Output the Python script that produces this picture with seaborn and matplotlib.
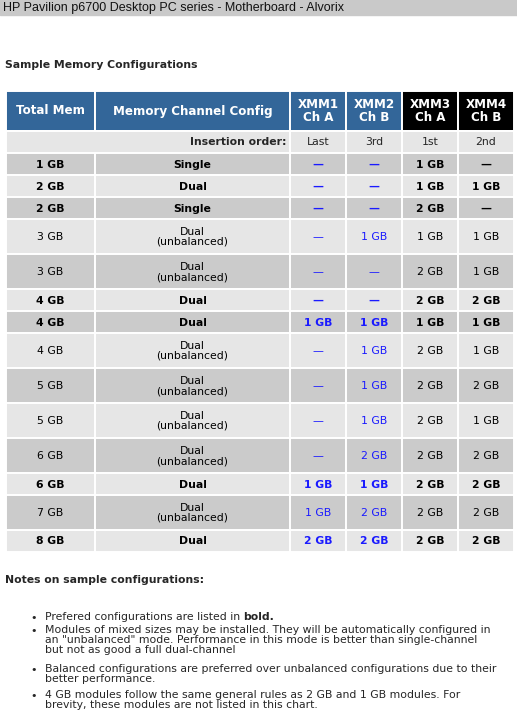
import seaborn as sns
import matplotlib.pyplot as plt
from matplotlib.patches import Rectangle

sns.set_theme(style="white")
plt.rcParams['font.family'] = ['DejaVu Sans']

# Table data
headers = ["Total Mem", "Memory Channel Config", "XMM1\nCh A", "XMM2\nCh B", "XMM3\nCh A", "XMM4\nCh B"]
insertion_order = ["Last", "3rd", "1st", "2nd"]
total_mem = ["1 GB", "2 GB", "2 GB", "3 GB", "3 GB", "4 GB", "4 GB",
             "4 GB", "5 GB", "5 GB", "6 GB", "6 GB", "7 GB", "8 GB"]
channel_cfg = ["Single", "Dual", "Single", "Dual\n(unbalanced)", "Dual\n(unbalanced)", "Dual", "Dual",
               "Dual\n(unbalanced)", "Dual\n(unbalanced)", "Dual\n(unbalanced)", "Dual\n(unbalanced)",
               "Dual", "Dual\n(unbalanced)", "Dual"]
xmm1 = ["—", "—", "—", "—", "—", "—", "1 GB", "—", "—", "—", "—", "1 GB", "1 GB", "2 GB"]
xmm2 = ["—", "—", "—", "1 GB", "—", "—", "1 GB", "1 GB", "1 GB", "1 GB", "2 GB", "1 GB", "2 GB", "2 GB"]
xmm3 = ["1 GB", "1 GB", "2 GB", "1 GB", "2 GB", "2 GB", "1 GB", "2 GB", "2 GB", "2 GB", "2 GB", "2 GB", "2 GB", "2 GB"]
xmm4 = ["—", "1 GB", "—", "1 GB", "1 GB", "2 GB", "1 GB", "1 GB", "2 GB", "1 GB", "2 GB", "2 GB", "2 GB", "2 GB"]
preferred = [True, True, True, False, False, True, True, False, False, False, False, True, False, True]

notes = [
    ("Prefered configurations are listed in ", "bold."),
    ("Modules of mixed sizes may be installed. They will be automatically configured in\n"
     "an \"unbalanced\" mode. Performance in this mode is better than single-channel\n"
     "but not as good a full dual-channel", ""),
    ("Balanced configurations are preferred over unbalanced configurations due to their\n"
     "better performance.", ""),
    ("4 GB modules follow the same general rules as 2 GB and 1 GB modules. For\n"
     "brevity, these modules are not listed in this chart.", ""),
]

W, H = 517, 711
fig = plt.figure(figsize=(W / 100, H / 100), dpi=100)
ax = fig.add_axes([0, 0, 1, 1])
ax.set_xlim(0, W)
ax.set_ylim(H, 0)
ax.axis("off")

# top bar
ax.add_patch(Rectangle((0, 0), W, 15, color="#c9c9c9"))
ax.text(3, 7.5, "HP Pavilion p6700 Desktop PC series - Motherboard - Alvorix",
        family="Liberation Sans", fontsize=9, va="center", color="#111111")
ax.text(5, 65, "Sample Memory Configurations", fontsize=7.8, weight="bold", va="center")

cols = [6, 95, 290, 346, 402, 458, 514]
fs = 7.8
blue, dark, light = "#1a1aff", "#cbcbcb", "#e6e6e6"

def cell(x0, x1, y0, y1, color):
    ax.add_patch(Rectangle((x0, y0), x1 - x0, y1 - y0, facecolor=color,
                           edgecolor="white", linewidth=1.4))

# header
for i, h in enumerate(headers):
    c = "#336699" if i < 4 else "black"
    cell(cols[i], cols[i + 1], 91, 131, c)
    ax.text((cols[i] + cols[i + 1]) / 2, 111, h, color="white", weight="bold",
            fontsize=8.6, ha="center", va="center", linespacing=1.0)

# insertion order row
cell(cols[0], cols[2], 131, 153, light)
ax.text(cols[2] - 4, 142, "Insertion order:", weight="bold", fontsize=fs, ha="right", va="center")
for i, s in enumerate(insertion_order):
    cell(cols[i + 2], cols[i + 3], 131, 153, light)
    ax.text((cols[i + 2] + cols[i + 3]) / 2, 142, s, fontsize=fs, ha="center", va="center")

y = 153
for r in range(len(total_mem)):
    h = 35 if "\n" in channel_cfg[r] else 22
    bg = dark if r % 2 == 0 else light
    wt = "bold" if preferred[r] else "normal"
    vals = [total_mem[r], channel_cfg[r], xmm1[r], xmm2[r], xmm3[r], xmm4[r]]
    for i, v in enumerate(vals):
        cell(cols[i], cols[i + 1], y, y + h, bg)
        col = blue if i in (2, 3) else "black"
        ax.text((cols[i] + cols[i + 1]) / 2, y + h / 2 + 0.5, v, fontsize=fs, weight=wt,
                color=col, ha="center", va="center", linespacing=1.0)
    y += h

ax.text(5, 580, "Notes on sample configurations:", fontsize=7.8, weight="bold", va="center")
ny = 612
for main, bold in notes:
    ax.text(30, ny + 1, "•", fontsize=8, va="top")
    t = ax.text(45, ny, main, fontsize=7.8, va="top", linespacing=1.0)
    if bold:
        fig.canvas.draw()
        bb = t.get_window_extent()
        ax.text(45 + bb.width, ny, bold, fontsize=7.8, weight="bold", va="top")
    ny += 13 * (main.count("\n") + 1)

fig.savefig("out.png", dpi=100)
